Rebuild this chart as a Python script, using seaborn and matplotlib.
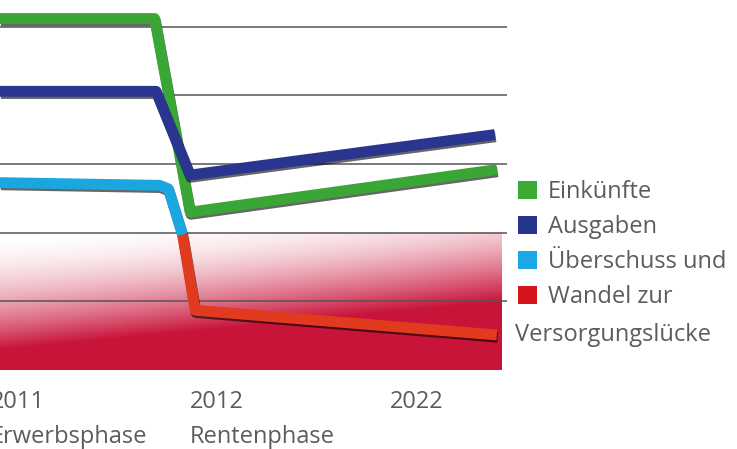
import numpy as np
import seaborn as sns
import matplotlib.pyplot as plt
import matplotlib.patheffects as pe
from matplotlib.patches import Patch

# Verlauf über die Lebensphasen: Einkünfte, Ausgaben und der Wandel vom
# Überschuss zur Versorgungslücke. x = relative Position auf der Zeitachse,
# y = Niveau in Einheiten der Gitterlinien.

einkuenfte_x = [0.0, 3.05, 3.75, 9.8]
einkuenfte_y = [5.12, 5.12, 2.30, 2.92]

ausgaben_x = [0.0, 3.08, 3.75, 9.76]
ausgaben_y = [4.06, 4.06, 2.84, 3.43]

ueberschuss_x = [0.0, 3.15, 3.32, 3.6]
ueberschuss_y = [2.73, 2.69, 2.64, 1.97]

luecke_x = [3.6, 3.85, 9.8]
luecke_y = [1.97, 0.87, 0.51]

grid_levels = [1, 2, 3, 4, 5]
zone_top = 2.0      # Grenze, unter der die Versorgungslücke liegt
zone_right = 9.9

year_labels = ["2011", "2012", "2022"]
phase_labels = ["Erwerbsphase", "Rentenphase", ""]
label_pos = [-0.18, 3.75, 7.69]

legend_labels = ["Einkünfte", "Ausgaben", "Überschuss und", "Wandel zur"]
legend_extra = "Versorgungslücke"

line_colors = ["#3aa636", "#2a3590", "#1aa7e0", "#e23a1f"]
legend_colors = ["#3aab35", "#27358f", "#1ba8e3", "#d4161c"]
crimson = (0.79, 0.08, 0.23)
text_color = "#5c5c5c"

sns.set_style("white")
plt.rcParams["font.family"] = ["Open Sans", "DejaVu Sans"]

fig = plt.figure(figsize=(7.37, 4.49), dpi=100)
ax = fig.add_axes([0, 79 / 449, 507 / 737, 370 / 449])
ax.set_xlim(0, 10)
ax.set_ylim(0, 5.39)
ax.axis("off")

# roter Verlauf für die Versorgungslücke
ny, nx = 200, 200
t = np.linspace(0, 1, ny)[:, None]
u = np.linspace(0, 1, nx)[None, :]
s = 0.85 - 0.35 * u
p = 1.8 - 0.6 * u
base = 0.22 * u ** 2
alpha = base + (1 - base) * np.clip(t / s, 0, 1) ** p
img = np.zeros((ny, nx, 4))
img[..., 0], img[..., 1], img[..., 2] = crimson
img[..., 3] = alpha
ax.imshow(img, extent=[0, zone_right, 0, zone_top], origin="upper",
          aspect="auto", zorder=1, interpolation="bilinear")

ax.hlines(grid_levels, 0, 10, color="#555555", lw=1.1, zorder=2)

shadow = [pe.SimpleLineShadow(offset=(0.6, -1.6), shadow_color="black", alpha=0.6),
          pe.Normal()]
series = [(einkuenfte_x, einkuenfte_y), (ausgaben_x, ausgaben_y),
          (ueberschuss_x, ueberschuss_y), (luecke_x, luecke_y)]
for (xs, ys), col in zip(series, line_colors):
    sns.lineplot(x=xs, y=ys, sort=False, estimator=None, color=col, lw=7.8,
                 ax=ax, solid_joinstyle="round", solid_capstyle="butt",
                 path_effects=shadow, zorder=3)

# Achsenbeschriftung (linksbündig unter der Achse)
for xp, yl, pl in zip(label_pos, year_labels, phase_labels):
    ax.annotate(yl, (xp, 0), xycoords=("data", "axes fraction"),
                xytext=(0, -27), textcoords="offset points", ha="left",
                va="baseline", fontsize=17, color=text_color, annotation_clip=False)
    ax.annotate(pl, (xp, 0), xycoords=("data", "axes fraction"),
                xytext=(0, -52.5), textcoords="offset points", ha="left",
                va="baseline", fontsize=17, color=text_color, annotation_clip=False)

handles = [Patch(facecolor=c, edgecolor="none") for c in legend_colors]
fig.legend(handles, legend_labels, loc="upper left",
           bbox_to_anchor=(518 / 737, 1 - 180 / 449), frameon=False,
           fontsize=17, labelcolor=text_color, handlelength=0.8,
           handleheight=0.8, handletextpad=0.45, labelspacing=0.47,
           borderpad=0, borderaxespad=0)
fig.text(515 / 737, 1 - 341 / 449, legend_extra, fontsize=17,
         color=text_color, va="baseline", ha="left")

fig.savefig("out.png", dpi=100)
